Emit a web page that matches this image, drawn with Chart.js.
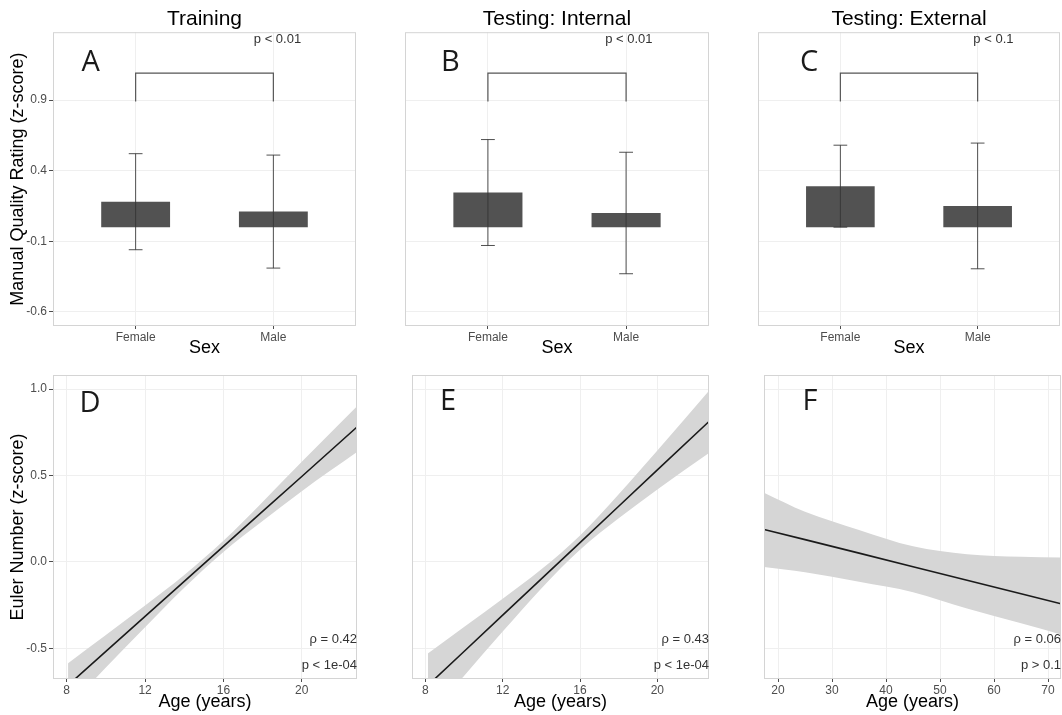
<!DOCTYPE html>
<html>
<head>
<meta charset="utf-8">
<script src="https://cdn.jsdelivr.net/npm/chart.js@4.4.0/dist/chart.umd.min.js"></script>
<style>
  body { margin: 0; background: #fff; }
  #fig { position: relative; width: 1062px; height: 715px; }
  #fig canvas { position: absolute; }
</style>
</head>
<body>
<div id="fig">
  <canvas id="panelA" width="358" height="360" style="left:0px;top:0px"></canvas>
  <canvas id="panelB" width="354" height="360" style="left:358px;top:0px"></canvas>
  <canvas id="panelC" width="350" height="360" style="left:712px;top:0px"></canvas>
  <canvas id="panelD" width="359" height="355" style="left:0px;top:360px"></canvas>
  <canvas id="panelE" width="353" height="355" style="left:359px;top:360px"></canvas>
  <canvas id="panelF" width="350" height="355" style="left:712px;top:360px"></canvas>
</div>
<script>
// top row: manual quality rating by sex
const sexLabels = ['Female', 'Male'];
const qualityTicks = [-0.6, -0.1, 0.4, 0.9];
const meanTraining = [0.18, 0.11];
const errTraining = [0.34, 0.40];
const meanInternal = [0.245, 0.10];
const errInternal = [0.375, 0.43];
const meanExternal = [0.29, 0.15];
const errExternal = [0.29, 0.445];
const bracketY = [0.89, 1.09];

// bottom row: euler number vs age, fit line and confidence band
const ageTicksYoung = [8, 12, 16, 20];
const ageTicksAdult = [20, 30, 40, 50, 60, 70];
const eulerTicks = [-0.5, 0.0, 0.5, 1.0];

const ageTraining = [8.07, 10, 12, 14, 16, 18, 20, 22.82];
const fitTraining = [-0.713, -0.517, -0.315, -0.112, 0.09, 0.292, 0.494, 0.78];
const upperTraining = [-0.586, -0.423, -0.252, -0.075, 0.122, 0.347, 0.579, 0.90];
const lowerTraining = [-0.84, -0.611, -0.378, -0.149, 0.058, 0.237, 0.409, 0.635];

const ageInternal = [8.13, 10, 12, 14, 16, 18, 20, 22.67];
const fitInternal = [-0.714, -0.518, -0.308, -0.098, 0.112, 0.322, 0.532, 0.812];
const upperInternal = [-0.53, -0.377, -0.213, -0.043, 0.153, 0.392, 0.645, 0.99];
const lowerInternal = [-0.898, -0.659, -0.403, -0.153, 0.071, 0.252, 0.419, 0.63];

const ageExternal = [17.4, 25, 35, 45, 55, 65, 72.4];
const fitExternal = [0.188, 0.129, 0.051, -0.028, -0.106, -0.184, -0.242];
const upperExternal = [0.40, 0.29, 0.185, 0.09, 0.045, 0.03, 0.025];
const lowerExternal = [-0.03, -0.06, -0.115, -0.175, -0.27, -0.355, -0.42];

Chart.defaults.font.family = "'Liberation Sans', Arial, sans-serif";
Chart.defaults.animation = false;

const gridColor = '#efefef';
const tickText = '#4d4d4d';
const letterFont = "29px 'Open Sans', sans-serif";
const noteFont = "13px 'Liberation Sans', Arial, sans-serif";

const panelFrame = {
  id: 'panelFrame',
  afterDraw(chart) {
    const a = chart.chartArea;
    const ctx = chart.ctx;
    ctx.save();
    ctx.strokeStyle = '#d4d4d4';
    ctx.lineWidth = 1;
    ctx.strokeRect(a.left + 0.5, a.top + 0.5, a.right - a.left - 1, a.bottom - a.top - 1);
    ctx.restore();
  }
};

function panelText(items) {
  return {
    id: 'panelText',
    afterDraw(chart) {
      const ctx = chart.ctx;
      items.forEach(t => {
        ctx.save();
        ctx.font = t.font;
        ctx.fillStyle = t.color || '#1a1a1a';
        ctx.textAlign = t.align || 'center';
        ctx.textBaseline = 'middle';
        ctx.fillText(t.text, chart.scales.x.getPixelForValue(t.x), chart.scales.y.getPixelForValue(t.y));
        ctx.restore();
      });
    }
  };
}

function segment(points, color, width) {
  return {
    type: 'line',
    data: points,
    borderColor: color,
    borderWidth: width,
    pointRadius: 0,
    fill: false,
    tension: 0
  };
}

function barPanel(id, title, means, errs, yWidth, padRight, showY, notes) {
  const datasets = [];
  means.forEach((m, i) => {
    const x = i + 1;
    datasets.push(segment([{x: x, y: m - errs[i]}, {x: x, y: m + errs[i]}], 'rgba(50,50,50,0.85)', 1));
    datasets.push(segment([{x: x - 0.05, y: m + errs[i]}, {x: x + 0.05, y: m + errs[i]}], 'rgba(50,50,50,0.85)', 1));
    datasets.push(segment([{x: x - 0.05, y: m - errs[i]}, {x: x + 0.05, y: m - errs[i]}], 'rgba(50,50,50,0.85)', 1));
  });
  datasets.push(segment([
    {x: 1, y: bracketY[0]}, {x: 1, y: bracketY[1]},
    {x: 2, y: bracketY[1]}, {x: 2, y: bracketY[0]}
  ], '#555555', 1.2));
  datasets.push({
    type: 'bar',
    data: means.map((m, i) => ({x: i + 1, y: m})),
    backgroundColor: '#525252',
    barPercentage: 0.5,
    categoryPercentage: 1
  });

  new Chart(document.getElementById(id), {
    type: 'bar',
    data: {datasets: datasets},
    options: {
      responsive: false,
      layout: {padding: {right: padRight}},
      plugins: {
        legend: {display: false},
        tooltip: {enabled: false},
        title: {
          display: true, text: title, fullSize: false, color: '#000',
          font: {size: 21, weight: 'normal'}, padding: {top: 7, bottom: 0}
        }
      },
      scales: {
        x: {
          type: 'linear', min: 0.4, max: 2.6, offset: false,
          afterBuildTicks: s => { s.ticks = sexLabels.map((_, i) => ({value: i + 1})); },
          afterFit: s => { s.height = 34; },
          ticks: {callback: v => sexLabels[v - 1], color: tickText, font: {size: 12}, padding: 1, maxRotation: 0, autoSkip: false},
          grid: {color: gridColor, tickColor: tickText, tickLength: 3, offset: false},
          border: {display: false},
          title: {display: true, text: 'Sex', color: '#000', font: {size: 18}, padding: {top: 0, bottom: 1}}
        },
        y: {
          min: -0.7, max: 1.38,
          afterBuildTicks: s => { s.ticks = qualityTicks.map(v => ({value: v})); },
          afterFit: s => { s.width = yWidth; },
          ticks: {display: showY, callback: v => v.toFixed(1), color: tickText, font: {size: 12}, padding: 2},
          grid: {color: gridColor, drawTicks: showY, tickLength: 4, tickColor: tickText},
          border: {display: false},
          title: {display: showY, text: 'Manual Quality Rating (z-score)', color: '#000', font: {size: 18}, padding: {top: 7, bottom: 0}}
        }
      }
    },
    plugins: [panelFrame, panelText(notes)]
  });
}

function fitPanel(id, ages, fit, upper, lower, xMin, xMax, xTicks, yWidth, padRight, showY, notes) {
  const pts = arr => arr.map((v, i) => ({x: ages[i], y: v}));
  new Chart(document.getElementById(id), {
    type: 'line',
    data: {
      datasets: [
        {data: pts(fit), borderColor: '#1a1a1a', borderWidth: 1.6, pointRadius: 0, fill: false, tension: 0},
        {data: pts(upper), borderWidth: 0, borderColor: 'rgba(0,0,0,0)', pointRadius: 0,
         backgroundColor: '#d6d6d6', fill: {target: 2}, cubicInterpolationMode: 'monotone'},
        {data: pts(lower), borderWidth: 0, borderColor: 'rgba(0,0,0,0)', pointRadius: 0,
         fill: false, cubicInterpolationMode: 'monotone'}
      ]
    },
    options: {
      responsive: false,
      layout: {padding: {top: 15, right: padRight}},
      plugins: {legend: {display: false}, tooltip: {enabled: false}},
      scales: {
        x: {
          type: 'linear', min: xMin, max: xMax,
          afterBuildTicks: s => { s.ticks = xTicks.map(v => ({value: v})); },
          afterFit: s => { s.height = 36; },
          ticks: {callback: v => String(v), color: tickText, font: {size: 12}, padding: 1, maxRotation: 0, autoSkip: false},
          grid: {color: gridColor, tickColor: tickText, tickLength: 3},
          border: {display: false},
          title: {display: true, text: 'Age (years)', color: '#000', font: {size: 18}, padding: {top: 0, bottom: 2}}
        },
        y: {
          min: -0.677, max: 1.081,
          afterBuildTicks: s => { s.ticks = eulerTicks.map(v => ({value: v})); },
          afterFit: s => { s.width = yWidth; },
          ticks: {display: showY, callback: v => v.toFixed(1), color: tickText, font: {size: 12}, padding: 2},
          grid: {color: gridColor, drawTicks: showY, tickLength: 4, tickColor: tickText},
          border: {display: false},
          title: {display: showY, text: 'Euler Number (z-score)', color: '#000', font: {size: 18}, padding: {top: 7, bottom: 0}}
        }
      }
    },
    plugins: [panelFrame, panelText(notes)]
  });
}

barPanel('panelA', 'Training', meanTraining, errTraining, 53, 2, true, [
  {text: 'A', x: 0.674, y: 1.165, font: letterFont},
  {text: 'p < 0.01', x: 2.03, y: 1.33, font: noteFont, color: '#333'}
]);
barPanel('panelB', 'Testing: Internal', meanInternal, errInternal, 47, 3, false, [
  {text: 'B', x: 0.728, y: 1.165, font: letterFont},
  {text: 'p < 0.01', x: 2.02, y: 1.33, font: noteFont, color: '#333'}
]);
barPanel('panelC', 'Testing: External', meanExternal, errExternal, 46, 2, false, [
  {text: 'C', x: 0.772, y: 1.165, font: letterFont},
  {text: 'p < 0.1', x: 2.115, y: 1.33, font: noteFont, color: '#333'}
]);

fitPanel('panelD', ageTraining, fitTraining, upperTraining, lowerTraining, 7.3, 22.82, ageTicksYoung, 53, 2, true, [
  {text: 'D', x: 9.19, y: 0.917, font: letterFont},
  {text: 'ρ = 0.42', x: 22.82, y: -0.448, font: noteFont, color: '#333', align: 'right'},
  {text: 'p < 1e-04', x: 22.82, y: -0.598, font: noteFont, color: '#333', align: 'right'}
]);
fitPanel('panelE', ageInternal, fitInternal, upperInternal, lowerInternal, 7.31, 22.67, ageTicksYoung, 53, 3, false, [
  {text: 'E', x: 9.17, y: 0.929, font: letterFont},
  {text: 'ρ = 0.43', x: 22.67, y: -0.448, font: noteFont, color: '#333', align: 'right'},
  {text: 'p < 1e-04', x: 22.67, y: -0.598, font: noteFont, color: '#333', align: 'right'}
]);
fitPanel('panelF', ageExternal, fitExternal, upperExternal, lowerExternal, 17.4, 72.4, ageTicksAdult, 52, 1, false, [
  {text: 'F', x: 25.9, y: 0.929, font: letterFont},
  {text: 'ρ = 0.06', x: 72.4, y: -0.448, font: noteFont, color: '#333', align: 'right'},
  {text: 'p > 0.1', x: 72.4, y: -0.598, font: noteFont, color: '#333', align: 'right'}
]);
</script>
</body>
</html>
